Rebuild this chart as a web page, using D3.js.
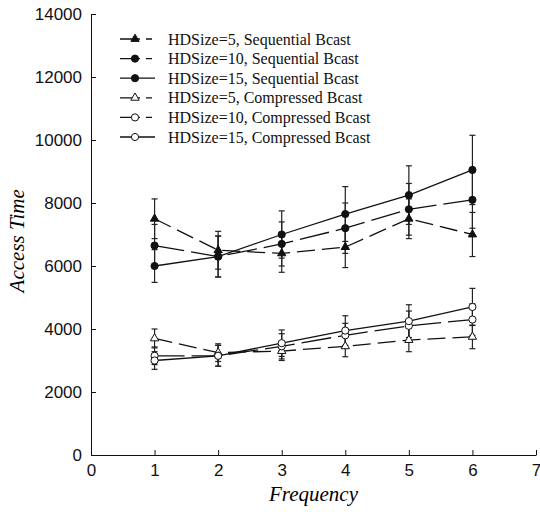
<!DOCTYPE html>
<html>
<head>
  <meta charset="UTF-8">
  <script src="https://d3js.org/d3.v7.min.js"></script>
  <style>
    body { margin: 0; background: #fff; }
    .axis text { font-family: "Liberation Sans", Arial, sans-serif; font-size: 17px; fill: #111; }
    .axis path, .axis line { stroke: #111; }
  </style>
</head>
<body>
  <div id="chart"></div>
  <script>
    const frequency = [1, 2, 3, 4, 5, 6];
    const xTicks = [0, 1, 2, 3, 4, 5, 6, 7];
    const yTicks = [0, 2000, 4000, 6000, 8000, 10000, 12000, 14000];

    const seq5 = [7500, 6500, 6400, 6600, 7500, 7000];
    const seq10 = [6650, 6300, 6700, 7200, 7800, 8100];
    const seq15 = [6000, 6300, 7000, 7650, 8250, 9050];
    const comp5 = [3700, 3250, 3300, 3450, 3650, 3750];
    const comp10 = [3150, 3150, 3450, 3800, 4100, 4300];
    const comp15 = [3000, 3150, 3550, 3950, 4250, 4700];

    const seq5Err = [630, 600, 600, 650, 630, 700];
    const seq10Err = [670, 650, 700, 800, 820, 900];
    const seq15Err = [520, 650, 750, 870, 930, 1100];
    const comp5Err = [300, 280, 300, 330, 370, 375];
    const comp10Err = [280, 330, 400, 380, 470, 500];
    const comp15Err = [280, 330, 420, 470, 520, 590];

    const series = [
      {name: "HDSize=5, Sequential Bcast", values: seq5, err: seq5Err, marker: "triangle", filled: true, dash: "18,7"},
      {name: "HDSize=10, Sequential Bcast", values: seq10, err: seq10Err, marker: "circle", filled: true, dash: "30,7"},
      {name: "HDSize=15, Sequential Bcast", values: seq15, err: seq15Err, marker: "circle", filled: true, dash: null},
      {name: "HDSize=5, Compressed Bcast", values: comp5, err: comp5Err, marker: "triangle", filled: false, dash: "18,7"},
      {name: "HDSize=10, Compressed Bcast", values: comp10, err: comp10Err, marker: "circle", filled: false, dash: "30,7"},
      {name: "HDSize=15, Compressed Bcast", values: comp15, err: comp15Err, marker: "circle", filled: false, dash: null}
    ];

    const margin = {top: 14, right: 4, bottom: 57, left: 91},
          width = 540 - margin.left - margin.right,
          height = 512 - margin.top - margin.bottom;

    const svg = d3.select("#chart")
                  .append("svg")
                  .attr("width", 540)
                  .attr("height", 512)
                  .append("g")
                  .attr("transform", `translate(${margin.left},${margin.top})`);

    const x = d3.scaleLinear().domain([0, 7]).range([0, 445]);
    const y = d3.scaleLinear().domain([0, 14000]).range([height, 0]);

    svg.append("g")
       .attr("class", "axis")
       .attr("transform", `translate(0,${height})`)
       .call(d3.axisBottom(x).tickValues(xTicks).tickSize(-5).tickPadding(8).tickSizeOuter(0).tickFormat(d3.format("d")))
       .selectAll("text").attr("dy", "0.75em");

    svg.append("g")
       .attr("class", "axis")
       .call(d3.axisLeft(y).tickValues(yTicks).tickSize(-5).tickPadding(9).tickSizeOuter(0).tickFormat(d3.format("d")));

    // axis titles
    svg.append("text")
       .attr("x", x(3.5))
       .attr("y", height + 46)
       .attr("text-anchor", "middle")
       .style("font-family", "Liberation Serif, Times New Roman, serif")
       .style("font-style", "italic")
       .style("font-size", "21px")
       .text("Frequency");

    svg.append("text")
       .attr("transform", `translate(-74,${y(6800)}) rotate(-90)`)
       .attr("text-anchor", "middle")
       .attr("dy", "0.35em")
       .style("font-family", "Liberation Serif, Times New Roman, serif")
       .style("font-style", "italic")
       .style("font-size", "21px")
       .text("Access Time");

    const line = d3.line().x((d, i) => x(frequency[i])).y(d => y(d));
    const tri = d3.symbol().type(d3.symbolTriangle).size(30);

    function drawMarker(g, s, cx, cy) {
      if (s.marker === "triangle") {
        g.append("path")
         .attr("d", tri())
         .attr("transform", `translate(${cx},${cy})`)
         .attr("fill", s.filled ? "#111" : "#fff")
         .attr("stroke", "#111")
         .attr("stroke-width", 1);
      } else {
        g.append("circle")
         .attr("cx", cx).attr("cy", cy)
         .attr("r", 3.6)
         .attr("fill", s.filled ? "#111" : "#fff")
         .attr("stroke", "#111")
         .attr("stroke-width", 1);
      }
    }

    // error bars
    series.forEach(s => {
      const g = svg.append("g");
      s.values.forEach((v, i) => {
        const cx = x(frequency[i]);
        const e = s.err[i];
        g.append("line")
         .attr("x1", cx).attr("x2", cx)
         .attr("y1", y(v - e)).attr("y2", y(v + e))
         .attr("stroke", "#222").attr("stroke-width", 1.2);
        [v - e, v + e].forEach(c => {
          g.append("line")
           .attr("x1", cx - 3).attr("x2", cx + 3)
           .attr("y1", y(c)).attr("y2", y(c))
           .attr("stroke", "#222").attr("stroke-width", 1.2);
        });
      });
    });

    // lines and markers
    series.forEach(s => {
      const g = svg.append("g");
      g.append("path")
       .datum(s.values)
       .attr("d", line)
       .attr("fill", "none")
       .attr("stroke", "#111")
       .attr("stroke-width", 1.3)
       .attr("stroke-dasharray", s.dash);
      s.values.forEach((v, i) => drawMarker(g, s, x(frequency[i]), y(v)));
    });

    // legend
    const legend = svg.append("g").attr("transform", "translate(29,25)");
    series.forEach((s, i) => {
      const row = legend.append("g").attr("transform", `translate(0,${i * 19.6})`);
      row.append("line")
         .attr("x1", 0).attr("x2", 35)
         .attr("y1", 0).attr("y2", 0)
         .attr("stroke", "#111")
         .attr("stroke-width", 1.3)
         .attr("stroke-dasharray", s.dash ? "20,6,6,6" : null);
      drawMarker(row, s, 15, 0);
      row.append("text")
         .attr("x", 48)
         .attr("y", 0)
         .attr("dy", "0.35em")
         .style("font-family", "Liberation Serif, Times New Roman, serif")
         .style("font-size", "16px")
         .style("fill", "#111")
         .text(s.name);
    });
  </script>
</body>
</html>
